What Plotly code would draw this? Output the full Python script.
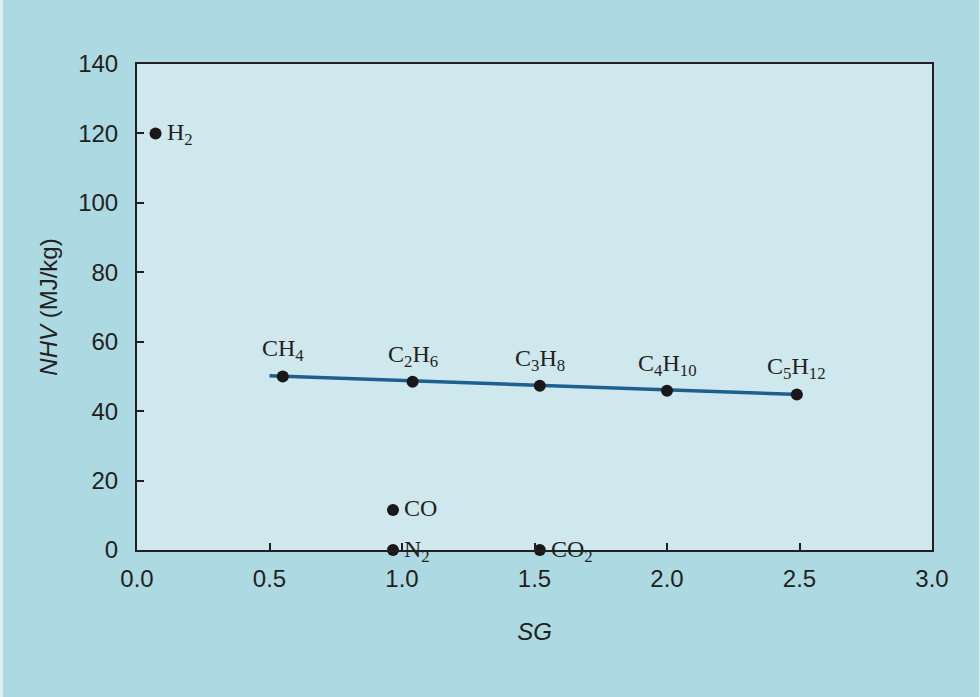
import plotly.graph_objects as go

# Data
gases = ["H<sub>2</sub>", "CH<sub>4</sub>", "C<sub>2</sub>H<sub>6</sub>", "C<sub>3</sub>H<sub>8</sub>",
         "C<sub>4</sub>H<sub>10</sub>", "C<sub>5</sub>H<sub>12</sub>", "CO", "N<sub>2</sub>", "CO<sub>2</sub>"]
sg = [0.07, 0.55, 1.04, 1.52, 2.00, 2.49, 0.966, 0.966, 1.52]
nhv = [120.0, 50.0, 48.5, 47.3, 45.9, 44.8, 11.5, 0.0, 0.0]
label_side = ["right", "top", "top", "top", "top", "top", "right", "right", "right"]

trend_x = [0.5, 2.5]
trend_y = [50.2, 44.8]

x_ticks = [0.0, 0.5, 1.0, 1.5, 2.0, 2.5, 3.0]
y_ticks = [0, 20, 40, 60, 80, 100, 120, 140]

fig = go.Figure()
fig.add_trace(go.Scatter(x=trend_x, y=trend_y, mode="lines",
                         line=dict(color="#1d5f8f", width=3.5), hoverinfo="skip"))
fig.add_trace(go.Scatter(x=sg, y=nhv, mode="markers",
                         marker=dict(color="#1a1718", size=12), cliponaxis=False))

label_font = dict(family="Liberation Serif", size=24, color="#231f20")
for name, xv, yv, side in zip(gases, sg, nhv, label_side):
    if side == "top":
        fig.add_annotation(x=xv, y=yv, text=name, showarrow=False, font=label_font,
                           xanchor="center", yanchor="bottom", yshift=9)
    else:
        has_sub = "<sub>" in name
        fig.add_annotation(x=xv, y=yv, text=name, showarrow=False, font=label_font,
                           xanchor="left", yanchor="middle", xshift=9,
                           yshift=-1 if has_sub else 2)

axis_common = dict(showline=True, linecolor="#231f20", linewidth=2, mirror=True,
                   ticks="inside", ticklen=7, tickcolor="#231f20", tickwidth=1.5,
                   showgrid=False, zeroline=False,
                   tickfont=dict(family="Liberation Sans", size=24, color="#231f20"))

fig.update_layout(
    width=980, height=697,
    paper_bgcolor="#add9e2", plot_bgcolor="#cfe8ee",
    margin=dict(l=137, r=48, t=64, b=147),
    showlegend=False,
    xaxis=dict(range=[0, 3], tickvals=x_ticks, ticktext=[f"{v:.1f}" for v in x_ticks],
               ticklabelstandoff=6,
               title=dict(text="<i>SG</i>", font=dict(family="Liberation Sans", size=24, color="#231f20"),
                          standoff=32), **axis_common),
    yaxis=dict(range=[0, 140], tickvals=y_ticks, ticklabelstandoff=12,
               title=dict(text="<i>NHV</i> (MJ/kg)", font=dict(family="Liberation Sans", size=24, color="#231f20"),
                          standoff=14), **axis_common),
)

# light edge strips of the figure frame
fig.add_shape(type="rect", xref="paper", yref="paper", x0=-0.1723, x1=-0.1686, y0=-0.31, y1=1.14,
              fillcolor="#dff0f4", line_width=0, layer="below")
fig.add_shape(type="rect", xref="paper", yref="paper", x0=1.0591, x1=1.07, y0=-0.31, y1=1.14,
              fillcolor="#dff0f4", line_width=0, layer="below")

fig.write_html("out.html", config={"displayModeBar": False},
               post_script="document.body.style.margin='0';document.body.style.overflow='hidden';")
